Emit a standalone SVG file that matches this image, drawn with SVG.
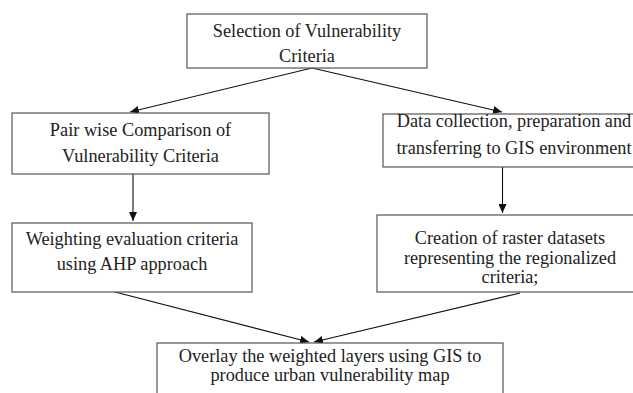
<svg xmlns="http://www.w3.org/2000/svg" width="633" height="393" viewBox="0 0 633 393">
<style>
.box{fill:#fff;stroke:#555;stroke-width:1.2}
.t{font-family:"Liberation Serif","Times New Roman",serif;font-size:18.3px;fill:#222;text-anchor:middle}
.c{stroke:#111;stroke-width:1.1;fill:none;marker-end:url(#ah)}
</style>
<defs>
<marker id="ah" markerUnits="userSpaceOnUse" markerWidth="10" markerHeight="8" refX="9" refY="4" orient="auto">
<path d="M0,0 L9,4 L0,8 Z" fill="#111"/>
</marker>
</defs>
<rect width="633" height="393" fill="#fff"/>
<g id="connectors">
<path class="c" d="M312,68 L130,112"/>
<path class="c" d="M312,68 L502,112"/>
<path class="c" d="M133,174 L133,221"/>
<path class="c" d="M502.5,167 L502.5,213"/>
<path class="c" d="M115,292 L309,342"/>
<path class="c" d="M520,293 L314,342"/>
</g>
<g id="n1">
<rect class="box" x="187" y="14" width="240" height="54"/>
<text class="t" x="307" y="37">Selection of Vulnerability</text>
<text class="t" x="307" y="62">Criteria</text>
</g>
<g id="n2">
<rect class="box" x="12" y="113" width="257" height="61"/>
<text class="t" x="140.5" y="136">Pair wise Comparison of</text>
<text class="t" x="140.5" y="162">Vulnerability Criteria</text>
</g>
<g id="n3">
<rect class="box" x="383" y="114" width="262" height="53"/>
<text class="t" x="514" y="127">Data collection, preparation and</text>
<text class="t" x="514" y="154">transferring to GIS environment</text>
</g>
<g id="n4">
<rect class="box" x="12" y="223" width="240" height="69"/>
<text class="t" x="132" y="245">Weighting evaluation criteria</text>
<text class="t" x="132" y="270">using AHP approach</text>
</g>
<g id="n5">
<rect class="box" x="377" y="215" width="266" height="77"/>
<text class="t" x="510" y="244">Creation of raster datasets</text>
<text class="t" x="510" y="264">representing the regionalized</text>
<text class="t" x="510" y="283">criteria;</text>
</g>
<g id="n6">
<rect class="box" x="157" y="343" width="346" height="60"/>
<text class="t" x="330" y="362">Overlay the weighted layers using GIS to</text>
<text class="t" x="330" y="381">produce urban vulnerability map</text>
</g>
</svg>
